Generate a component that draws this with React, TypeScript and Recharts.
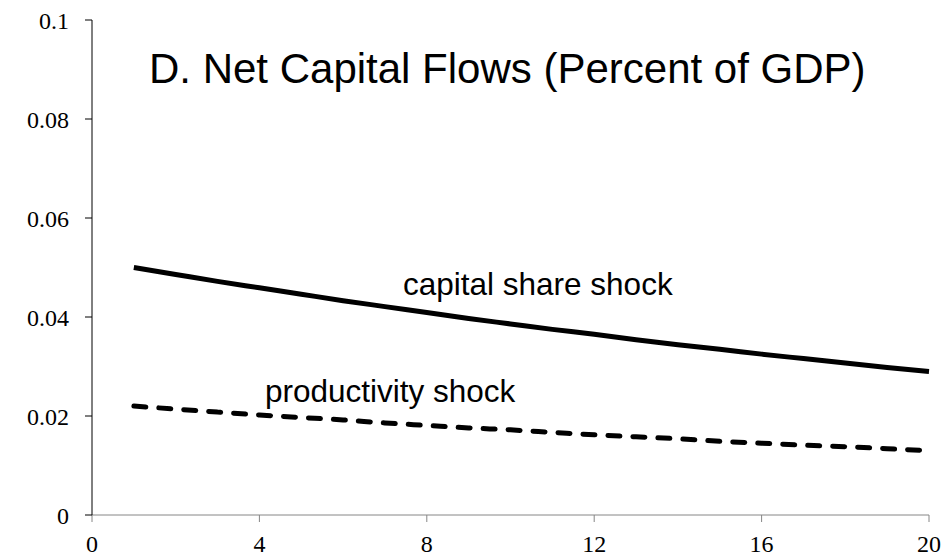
import { LineChart, Line, XAxis, YAxis, Customized } from "recharts";

const periods = [1, 2, 3, 4, 5, 6, 7, 8, 9, 10, 11, 12, 13, 14, 15, 16, 17, 18, 19, 20];
const capitalShare = [
  0.05, 0.0486, 0.0472, 0.0459, 0.0446, 0.0433, 0.0421, 0.0409, 0.0397, 0.0386,
  0.0375, 0.0365, 0.0354, 0.0344, 0.0335, 0.0325, 0.0316, 0.0307, 0.0298, 0.029,
];
const productivity = [
  0.022, 0.0214, 0.0208, 0.0202, 0.0197, 0.0192, 0.0186, 0.0181, 0.0176, 0.0172,
  0.0167, 0.0162, 0.0158, 0.0154, 0.0149, 0.0145, 0.0141, 0.0138, 0.0134, 0.013,
];
const xTicks = [0, 4, 8, 12, 16, 20];
const yTicks = [0, 0.02, 0.04, 0.06, 0.08, 0.1];

const title = "D. Net Capital Flows (Percent of GDP)";
const capitalLabel = "capital share shock";
const productivityLabel = "productivity shock";

const data = periods.map((t, i) => ({
  t,
  capital: capitalShare[i],
  productivity: productivity[i],
}));

const sans = "'Liberation Sans', Arial, sans-serif";
const serif = "'Liberation Serif', 'Times New Roman', serif";

function Texts() {
  return (
    <g fontFamily={sans} fill="#000">
      <text x={149} y={83} fontSize={42}>
        {title}
      </text>
      <text x={403} y={295} fontSize={31.5}>
        {capitalLabel}
      </text>
      <text x={265} y={402} fontSize={31.5}>
        {productivityLabel}
      </text>
    </g>
  );
}

export default function App() {
  return (
    <div style={{ position: "absolute", left: 0, top: 0, background: "#fff" }}>
      <LineChart
        width={952}
        height={558}
        data={data}
        margin={{ top: 20, right: 23, left: 0, bottom: 0 }}
      >
        <XAxis
          dataKey="t"
          type="number"
          domain={[0, 20]}
          ticks={xTicks}
          stroke="#868686"
          tickSize={7}
          tickMargin={13}
          height={43}
          tick={{ fill: "#000", fontFamily: serif, fontSize: 24 }}
        />
        <YAxis
          type="number"
          domain={[0, 0.1]}
          ticks={yTicks}
          stroke="#000"
          tickSize={7}
          tickMargin={16}
          width={92}
          tick={{ fill: "#000", fontFamily: serif, fontSize: 24 }}
        />
        <Line
          type="monotone"
          dataKey="capital"
          stroke="#000"
          strokeWidth={5}
          dot={false}
          isAnimationActive={false}
        />
        <Line
          type="monotone"
          dataKey="productivity"
          stroke="#000"
          strokeWidth={5}
          strokeDasharray="12 13"
          strokeLinecap="round"
          dot={false}
          isAnimationActive={false}
        />
        <Customized component={Texts} />
      </LineChart>
    </div>
  );
}
